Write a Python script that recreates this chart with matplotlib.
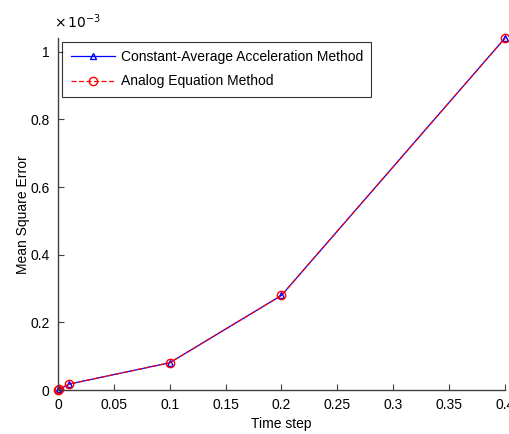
import matplotlib
matplotlib.use('Agg')
import matplotlib.pyplot as plt
from matplotlib.ticker import FuncFormatter

plt.rcParams['font.family'] = ['Liberation Sans', 'DejaVu Sans']

# Data (error values in units of 1e-3)
time_step = [0.0, 0.001, 0.01, 0.1, 0.2, 0.4]
caa_error = [0.0, 0.002, 0.018, 0.081, 0.280, 1.040]
aem_error = [0.0, 0.002, 0.018, 0.081, 0.280, 1.040]
x_ticks = [0, 0.05, 0.1, 0.15, 0.2, 0.25, 0.3, 0.35, 0.4]
y_ticks = [0, 0.2, 0.4, 0.6, 0.8, 1.0]

scale = 1e-3
caa = [v * scale for v in caa_error]
aem = [v * scale for v in aem_error]

fig = plt.figure(figsize=(5.09, 4.34), dpi=100)
ax = fig.add_axes([0.114, 0.101, 0.878, 0.811])

ax.plot(time_step, caa, color='#0000ff', lw=0.9, marker='^', ms=5,
        mfc='none', mec='#0000ff', mew=1.0, clip_on=False,
        label='Constant-Average Acceleration Method')
ax.plot(time_step, aem, color='#ff0000', lw=0.9, ls=(0, (4, 2)), marker='o', ms=6,
        mfc='none', mec='#ff0000', mew=1.0, clip_on=False,
        label='Analog Equation Method')

ax.set_xlim(0, 0.4)
ax.set_ylim(0, 1.04e-3)
ax.set_xticks(x_ticks)
ax.set_yticks([v * scale for v in y_ticks])
ax.xaxis.set_major_formatter(FuncFormatter(lambda v, p: ('%g' % round(v, 3))))
ax.yaxis.set_major_formatter(FuncFormatter(lambda v, p: ('%g' % round(v / scale, 3))))

for side in ['top', 'right']:
    ax.spines[side].set_visible(False)
for side in ['left', 'bottom']:
    ax.spines[side].set_color('#404040')
    ax.spines[side].set_linewidth(1.0)
ax.tick_params(direction='in', length=4, width=0.8, color='#404040',
               labelsize=10, pad=6)

ax.set_xlabel('Time step', fontsize=10, labelpad=3)
ax.set_ylabel('Mean Square Error', fontsize=10)
ax.yaxis.set_label_coords(-0.062, 0.5)

fig.text(0.106, 0.928, r'$\times\,10^{-3}$', fontsize=10, ha='left', va='bottom',
         math_fontfamily='dejavusans')

leg = ax.legend(loc='upper left', bbox_to_anchor=(0.01, 0.99), fontsize=10,
                frameon=True, fancybox=False, edgecolor='black',
                handlelength=3.2, handletextpad=0.4, borderpad=0.6,
                labelspacing=0.75, borderaxespad=0.0)
leg.get_frame().set_linewidth(0.8)

fig.savefig('out.png', dpi=100)
